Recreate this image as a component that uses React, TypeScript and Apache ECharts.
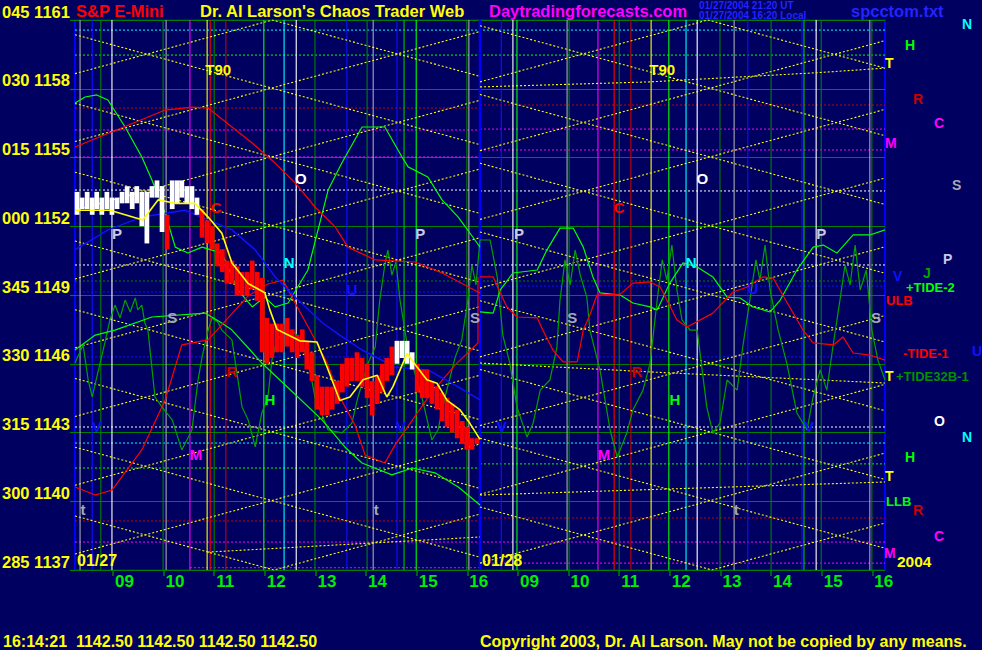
import React, { useEffect, useRef } from 'react';
import * as echarts from 'echarts';

const BG = '#000060';
const FONT = "'Liberation Sans', Arial, sans-serif";

// ---- axes ----
const hourLabels = ['09', '10', '11', '12', '13', '14', '15', '16'];
const hourTicks = [0.75, 1.75, 2.75, 3.75, 4.75, 5.75, 6.75, 7.75, 8.75, 9.75, 10.75, 11.75, 12.75, 13.75, 14.75, 15.75];
const priceTicks = [1137, 1140, 1143, 1146, 1149, 1152, 1155, 1158, 1161];
const angleLabels = ['285', '300', '315', '330', '345', '000', '015', '030', '045'];

// ---- price bars (day 1) ----
const barTimes = [
  0.04, 0.14, 0.24, 0.34, 0.43, 0.53, 0.63, 0.73, 0.83, 0.93,
  1.03, 1.13, 1.22, 1.32, 1.42, 1.52, 1.62, 1.72, 1.82, 1.92,
  2.02, 2.11, 2.21, 2.31, 2.41, 2.51, 2.61, 2.71, 2.81, 2.91,
  3.0, 3.1, 3.2, 3.3, 3.4, 3.5, 3.6, 3.7, 3.79, 3.89,
  3.99, 4.09, 4.19, 4.29, 4.39, 4.49, 4.58, 4.68, 4.78, 4.88,
  4.98, 5.08, 5.18, 5.28, 5.37, 5.47, 5.57, 5.67, 5.77, 5.87,
  5.97, 6.07, 6.16, 6.26, 6.36, 6.46, 6.56, 6.66, 6.76, 6.86,
  6.95, 7.05, 7.15, 7.25, 7.35, 7.45, 7.55, 7.65, 7.74, 7.84,
  7.94,
];
const barHigh = [
  1153.5, 1153.25, 1153.5, 1153.25, 1153.5, 1153.25, 1153.5, 1153.25, 1153.25, 1153.5,
  1153.75, 1153.5, 1153.75, 1153.5, 1153.5, 1153.75, 1154.0, 1153.75, 1152.5, 1154.0,
  1154.0, 1154.0, 1153.75, 1153.75, 1153.25, 1152.75, 1152.25, 1152.0, 1151.25, 1151.0,
  1150.5, 1150.5, 1150.25, 1150.0, 1150.0, 1150.5, 1150.0, 1149.75, 1148.0, 1147.75,
  1147.75, 1147.75, 1148.0, 1147.5, 1147.25, 1147.5, 1147.0, 1146.5, 1145.5, 1145.0,
  1145.0, 1145.0, 1145.25, 1146.0, 1146.25, 1146.25, 1146.5, 1146.25, 1146.0, 1145.25,
  1145.5, 1146.0, 1146.25, 1146.75, 1147.0, 1147.0, 1147.0, 1146.5, 1146.0, 1145.75,
  1145.75, 1145.25, 1145.0, 1144.75, 1144.5, 1144.25, 1144.0, 1143.5, 1143.25, 1142.75,
  1142.75,
];
const barLow = [
  1152.5, 1152.75, 1152.75, 1152.5, 1152.75, 1152.5, 1152.75, 1152.5, 1152.75, 1153.0,
  1153.0, 1152.75, 1153.0, 1152.0, 1151.25, 1153.25, 1153.25, 1151.75, 1151.0, 1152.75,
  1153.0, 1153.25, 1153.0, 1152.75, 1152.5, 1151.5, 1151.25, 1151.0, 1150.25, 1150.0,
  1149.5, 1149.5, 1149.0, 1149.0, 1149.0, 1149.25, 1148.75, 1146.5, 1146.0, 1146.25,
  1146.5, 1146.5, 1146.75, 1146.5, 1146.25, 1146.5, 1145.75, 1145.25, 1144.0, 1143.75,
  1143.75, 1144.0, 1144.25, 1144.75, 1145.0, 1145.25, 1145.25, 1145.0, 1144.5, 1143.75,
  1144.25, 1144.75, 1145.25, 1145.5, 1146.0, 1146.25, 1146.0, 1145.75, 1144.75, 1144.5,
  1144.5, 1144.25, 1144.0, 1143.5, 1143.25, 1143.0, 1142.75, 1142.5, 1142.25, 1142.25,
  1142.5,
];
// W = white bar, R = red bar
const barState =
  'WWWWWWWWWWWWWWWWWW' + 'R' + 'WWWWWW' +
  'RRRRRRRRRR' + 'RRRRRRRRRR' + 'RRRRRRRRRR' + 'RRRRRRRRR' +
  'WWWW' + 'RRRRRRRRRR' + 'RRR';

// ---- yellow price average ----
const priceAvg = [
  [0, 1152.7], [0.69, 1152.7], [1.34, 1152.27], [1.64, 1153.15], [1.98, 1153.0], [2.37, 1153.0],
  [2.63, 1152.4], [2.9, 1151.7], [3.1, 1150.4], [3.42, 1149.5], [3.75, 1149.1], [3.85, 1148.35],
  [3.99, 1147.5], [4.44, 1147.0], [4.78, 1146.95], [4.98, 1145.85], [5.23, 1144.4], [5.43, 1144.55],
  [5.69, 1145.3], [5.97, 1145.5], [6.16, 1144.55], [6.28, 1145.0], [6.56, 1146.45], [6.76, 1145.85],
  [6.95, 1145.3], [7.15, 1145.15], [7.35, 1144.4], [7.6, 1144.0], [7.8, 1143.4], [8.0, 1142.7],
];

// ---- blue curve (day 1) ----
const blueCurve = [
  [0, 1150.97], [0.65, 1151.84], [1.32, 1152.4], [2.17, 1152.7], [2.63, 1152.27], [3.1, 1151.84],
  [3.56, 1150.97], [3.95, 1149.8], [4.35, 1148.9], [4.88, 1147.8], [5.23, 1147.25], [5.67, 1146.6],
  [6.32, 1145.86], [6.97, 1145.73], [7.51, 1145.07], [8.0, 1144.42],
];

// ---- red curves ----
const redUpper1 = [
  [0, 1155.46], [1.78, 1157.07], [2.31, 1157.2], [2.63, 1157.16], [3.1, 1156.33], [3.5, 1155.63],
  [3.95, 1154.76], [4.35, 1153.89], [4.74, 1152.84], [5.14, 1151.97], [5.39, 1151.09], [5.93, 1150.53],
  [6.72, 1150.44], [7.25, 1149.96], [8.0, 1149.09],
];
const redLower1 = [
  [0, 1140.62], [0.4, 1140.27], [0.73, 1140.49], [1.32, 1142.24], [1.78, 1144.42], [2.11, 1146.82],
  [2.63, 1147.04], [3.02, 1147.99], [3.42, 1148.96], [3.81, 1149.48], [4.11, 1149.65], [4.39, 1148.48],
  [4.64, 1147.47], [4.98, 1146.03], [5.23, 1144.55], [5.53, 1143.33], [5.73, 1142.02], [6.12, 1141.67],
  [6.32, 1142.45], [7.01, 1144.64], [7.51, 1145.95], [7.96, 1146.91], [7.96, 1149.79],
];
const red2 = [
  [8.0, 1149.79], [8.26, 1149.79], [8.53, 1148.48], [8.73, 1148.04], [9.13, 1148.0], [9.24, 1147.47],
  [9.44, 1146.6], [9.64, 1146.08], [9.92, 1146.08], [10.04, 1147.47], [10.17, 1148.13], [10.31, 1149.0],
  [10.77, 1149.04], [11.02, 1149.52], [11.36, 1149.57], [11.56, 1149.35], [11.89, 1147.91], [12.09, 1147.6],
  [12.6, 1148.21], [13.0, 1149.13], [13.28, 1149.35], [13.59, 1149.79], [13.79, 1149.74], [14.07, 1148.65],
  [14.38, 1147.47], [14.58, 1146.91], [14.98, 1146.82], [15.17, 1147.17], [15.37, 1146.47], [15.7, 1146.38],
  [16.0, 1146.16],
];

// ---- bright green curves ----
const greenUpper1 = [
  [0, 1157.38], [0.2, 1157.64], [0.43, 1157.73], [0.65, 1157.51], [0.99, 1156.33], [1.32, 1155.02],
  [1.52, 1154.02], [1.78, 1152.58], [1.98, 1151.09], [2.23, 1150.83], [2.51, 1151.09], [2.9, 1150.83],
  [3.22, 1149.22], [3.5, 1148.48], [3.75, 1148.91], [3.95, 1148.48], [4.21, 1148.65], [4.6, 1150.09],
  [5.0, 1153.58], [5.27, 1154.76], [5.67, 1156.33], [6.12, 1156.33], [6.46, 1155.02], [6.58, 1154.59],
  [6.97, 1154.15], [7.25, 1153.15], [7.57, 1152.4], [7.9, 1151.4], [8.0, 1151.09],
];
const greenLower1 = [
  [0, 1146.6], [0.4, 1147.25], [0.79, 1147.47], [1.52, 1148.04], [2.57, 1148.21], [2.9, 1147.78],
  [3.1, 1147.47], [3.46, 1146.6], [3.69, 1146.03], [4.11, 1145.16], [4.88, 1143.55], [5.33, 1142.37],
  [5.67, 1141.67], [6.26, 1141.15], [6.66, 1141.45], [7.11, 1141.24], [7.57, 1140.62], [8.0, 1139.84],
];
const green2 = [
  [8.0, 1148.26], [8.26, 1148.21], [8.4, 1149.22], [8.65, 1149.96], [9.13, 1150.09], [9.32, 1150.96],
  [9.58, 1151.92], [9.84, 1151.92], [10.04, 1151.09], [10.23, 1149.79], [10.37, 1149.09], [10.77, 1149.0],
  [11.02, 1148.65], [11.36, 1148.48], [11.5, 1148.35], [11.75, 1149.52], [12.01, 1150.4], [12.29, 1150.22],
  [12.6, 1149.79], [12.88, 1148.91], [13.14, 1148.87], [13.39, 1148.48], [13.73, 1148.26], [13.93, 1148.78],
  [14.26, 1150.09], [14.58, 1151.09], [14.78, 1151.18], [15.05, 1150.83], [15.37, 1151.62], [15.7, 1151.62],
  [16.0, 1151.84],
];

// ---- dark green oscillator ----
const oscillator = [
  [0, 1146.03], [0.16, 1146.82], [0.26, 1145.29], [0.34, 1144.55], [0.45, 1145.6], [0.59, 1146.91],
  [0.69, 1147.91], [0.79, 1148.56], [0.89, 1148.0], [0.99, 1148.78], [1.09, 1148.26], [1.19, 1148.87],
  [1.24, 1148.35], [1.32, 1148.56], [1.38, 1147.78], [1.44, 1147.47], [1.58, 1144.55], [1.72, 1144.11],
  [1.92, 1143.55], [2.11, 1142.24], [2.31, 1143.11], [2.43, 1145.29], [2.51, 1146.29], [2.63, 1147.47],
  [2.71, 1148.0], [2.82, 1147.82], [2.9, 1147.47], [3.1, 1147.04], [3.3, 1144.11], [3.42, 1143.55],
  [3.56, 1142.37], [3.69, 1143.85], [3.81, 1144.55], [3.89, 1146.16], [4.01, 1147.25], [4.15, 1146.82],
  [4.29, 1147.47], [4.44, 1147.12], [4.6, 1146.16], [4.74, 1144.55], [5.0, 1143.11], [5.27, 1142.98],
  [5.47, 1143.41], [5.59, 1144.55], [5.79, 1146.03], [5.93, 1146.73], [6.02, 1148.78], [6.12, 1150.31],
  [6.18, 1150.96], [6.26, 1149.87], [6.34, 1150.44], [6.42, 1148.78], [6.58, 1146.6], [6.85, 1144.55],
  [7.05, 1142.67], [7.17, 1143.11], [7.31, 1144.55], [7.51, 1146.29], [7.64, 1147.04], [7.76, 1148.78],
  [7.84, 1150.31], [7.92, 1149.44], [8.0, 1151.4], [8.2, 1151.4], [8.34, 1149.79], [8.45, 1147.25],
  [8.59, 1146.03], [8.73, 1144.11], [8.93, 1142.8], [9.05, 1143.41], [9.19, 1144.85], [9.38, 1145.29],
  [9.52, 1146.73], [9.58, 1148.78], [9.68, 1150.53], [9.78, 1149.44], [9.88, 1150.96], [9.98, 1149.87],
  [10.11, 1148.91], [10.17, 1147.47], [10.37, 1145.73], [10.57, 1143.11], [10.71, 1141.93], [10.9, 1142.98],
  [11.02, 1143.98], [11.22, 1144.85], [11.36, 1146.03], [11.5, 1148.78], [11.6, 1150.53], [11.69, 1149.65],
  [11.79, 1151.18], [11.89, 1149.22], [11.99, 1147.91], [12.15, 1147.47], [12.29, 1147.47], [12.48, 1144.11],
  [12.6, 1142.98], [12.74, 1143.41], [12.88, 1145.29], [13.08, 1144.85], [13.19, 1146.73], [13.33, 1148.78],
  [13.45, 1150.53], [13.53, 1149.65], [13.63, 1151.18], [13.73, 1149.22], [13.89, 1147.47], [14.06, 1146.03],
  [14.26, 1143.85], [14.46, 1143.11], [14.58, 1144.55], [14.72, 1145.73], [14.85, 1144.85], [14.97, 1146.73],
  [15.11, 1148.78], [15.21, 1150.31], [15.31, 1149.44], [15.41, 1151.18], [15.51, 1149.22], [15.63, 1150.09],
  [15.74, 1147.47], [15.86, 1146.16], [16.0, 1145.29],
];

// ---- yellow field lines ----
const fieldLines = [
  [[0, 1160.36], [8, 1155.56]], [[0, 1157.36], [8, 1152.56]], [[0, 1154.36], [8, 1149.56]],
  [[0, 1151.36], [8, 1146.56]], [[0, 1148.36], [8, 1143.56]], [[0, 1145.36], [8, 1140.56]],
  [[0, 1142.36], [8, 1137.56]], [[0, 1139.36], [3.93, 1137], [8, 1139.44]],
  [[0, 1158.66], [3.9, 1161], [8, 1158.54]], [[0, 1155.7], [8, 1160.5]], [[0, 1152.7], [8, 1157.5]],
  [[0, 1149.7], [8, 1154.5]], [[0, 1146.7], [8, 1151.5]], [[0, 1143.7], [8, 1148.5]],
  [[0, 1140.7], [8, 1145.5]], [[0, 1137.7], [8, 1142.5]], [[2.62, 1137.78], [8, 1138.44]],
  [[8, 1160.75], [16, 1155.95]], [[8, 1157.75], [16, 1152.95]], [[8, 1154.75], [16, 1149.95]],
  [[8, 1151.75], [16, 1146.95]], [[8, 1148.75], [16, 1143.95]], [[8, 1145.75], [16, 1140.95]],
  [[8, 1142.75], [16, 1137.95]], [[8, 1139.75], [12.58, 1137], [16, 1139.05]],
  [[8, 1158.3], [12.5, 1161], [16, 1158.9]], [[8, 1155.3], [16, 1160.1]], [[8, 1152.3], [16, 1157.1]],
  [[8, 1149.3], [16, 1154.1]], [[8, 1146.3], [16, 1151.1]], [[8, 1143.3], [16, 1148.1]],
  [[8, 1140.3], [16, 1145.1]], [[8, 1137.3], [16, 1142.1]],
  [[8, 1158.08], [11.36, 1158.3], [14.66, 1158.7], [16, 1158.9]],
  [[8, 1140.27], [16, 1140.84]], [[8, 1146.03], [11.75, 1145.6], [16, 1145.16]],
];

// ---- horizontal dotted levels: [from, to, price, kind] ----
const levelLines: [number, number, number, string][] = [
  [0, 16, 1160.56, 'cyan'], [0, 16, 1159.47, 'green'],
  [0, 8, 1157.16, 'darkred'], [8, 16, 1157.29, 'darkred'],
  [0, 8, 1156.2, 'magenta'], [8, 16, 1156.24, 'magenta'],
  [0, 8, 1155.02, 'magenta'], [8, 16, 1155.33, 'magenta'],
  [0, 8, 1153.58, 'white'], [8, 16, 1153.54, 'white'],
  [0, 16, 1150.31, 'white'], [0, 16, 1149.61, 'dkgreen'],
  [0, 8, 1149.13, 'blue'], [8, 16, 1149.39, 'blue'],
  [0, 16, 1146.3, 'blue'], [0, 16, 1143.24, 'white'], [0, 16, 1142.54, 'cyan'],
  [0, 8, 1141.45, 'green'], [8, 16, 1141.63, 'green'],
  [0, 8, 1139.14, 'darkred'], [8, 16, 1139.27, 'darkred'],
  [0, 16, 1138.22, 'magenta'], [2.27, 8, 1137.1, 'magenta'], [8, 16, 1137.3, 'magenta'],
];

// ---- vertical time lines ----
const vLineT = [
  0.1, 0.34, 0.51, 0.73, 1.74, 1.8, 2.27, 2.61, 2.67, 2.75, 2.98, 3.73, 4.13, 4.37, 4.74, 5.37,
  5.77, 5.89, 6.36, 6.5, 6.74, 7.74, 7.78, 8.0, 8.42, 8.65, 8.73, 9.72, 9.76, 10.33, 10.65, 10.75,
  10.98, 11.38, 11.73, 12.07, 12.29, 12.74, 13.02, 13.29, 13.75, 14.36, 14.4, 14.64, 14.74, 15.7, 15.74,
];
const vLineKind = [
  'gray', 'blue', 'dkgreen', 'white', 'dkgreen', 'gray', 'magenta', 'yellow', 'red', 'dkgreen', 'darkred',
  'green', 'cyan', 'white', 'dkgreen', 'blue', 'dkgreen', 'gray', 'blue', 'midgreen', 'green', 'dkgreen',
  'gray', 'sep', 'blue', 'white', 'green', 'gray', 'dkgreen', 'magenta', 'red', 'dkgreen', 'darkred',
  'yellow', 'green', 'cyan', 'white', 'dkgreen', 'gray', 'blue', 'dkgreen', 'blue', 'midgreen', 'white',
  'dkgreen', 'gray', 'dkgreen',
];

// ---- in-plot markers ----
const markers: [string, number, number, string][] = [
  ['T90', 2.83, 1158.86, 'yellow'], ['T90', 11.6, 1158.86, 'yellow'],
  ['O', 4.46, 1154.1, 'white'], ['O', 12.39, 1154.1, 'white'],
  ['C', 2.79, 1152.84, 'red'], ['C', 10.75, 1152.84, 'red'],
  ['P', 0.83, 1151.7, 'pale'], ['P', 6.82, 1151.7, 'pale'], ['P', 8.77, 1151.7, 'pale'], ['P', 14.74, 1151.7, 'pale'],
  ['N', 4.23, 1150.44, 'cyan'], ['N', 12.17, 1150.44, 'cyan'],
  ['U', 5.47, 1149.26, 'blue'], ['U', 13.39, 1149.3, 'blue'],
  ['S', 1.92, 1148.04, 'gray'], ['S', 7.9, 1148.04, 'gray'], ['S', 9.82, 1148.04, 'gray'], ['S', 15.82, 1148.04, 'gray'],
  ['R', 3.1, 1145.68, 'darkred'], ['R', 11.1, 1145.68, 'darkred'],
  ['H', 3.85, 1144.46, 'green'], ['H', 11.85, 1144.46, 'green'],
  ['M', 2.39, 1142.06, 'magenta'], ['M', 10.45, 1142.06, 'magenta'],
  ['t', 0.16, 1139.66, 'gray'], ['t', 5.95, 1139.66, 'gray'], ['t', 13.06, 1139.66, 'gray'],
  ['V', 0.43, 1143.28, 'blue'], ['V', 6.44, 1143.28, 'blue'], ['V', 8.43, 1143.28, 'blue'], ['V', 14.5, 1143.28, 'blue'],
];

// ---- texts ----
const titleMain = 'S&P E-Mini';
const titleAuthor = "Dr. Al Larson's Chaos Trader Web";
const titleSite = 'Daytradingforecasts.com';
const stampUT = '01/27/2004 21:20 UT';
const stampLocal = '01/27/2004 16:20 Local';
const fileName = 'spcctom.txt';
const statusTime = '16:14:21';
const lastPrices = ['1142.50', '1142.50', '1142.50', '1142.50'];
const copyright = 'Copyright 2003, Dr. Al Larson. May not be copied by any means.';
const dayLabels = ['01/27', '01/28'];
const yearLabel = '2004';

const COLORS: Record<string, string> = {
  yellow: '#ffff00', white: '#ffffff', red: '#ff0000', darkred: '#c80000', cyan: '#00ffff',
  blue: '#1010ff', green: '#00ff00', dkgreen: '#008000', midgreen: '#00c000', magenta: '#ff00ff',
  gray: '#a8a8b0', pale: '#c8c8e8', sep: '#0000ff', jgreen: '#00a800', tide: '#009000',
};

const sideLabels: [string, number, number, string, number][] = [
  ['N', 962, 24, 'cyan', 14], ['H', 905, 45, 'green', 14], ['T', 885, 63, 'yellow', 14],
  ['R', 913, 99, 'darkred', 14], ['C', 934, 123, 'magenta', 14], ['M', 885, 143, 'magenta', 14],
  ['S', 952, 185, 'gray', 14], ['P', 943, 259, 'pale', 14], ['J', 923, 273, 'jgreen', 14],
  ['V', 893, 276, 'blue', 14], ['ULB', 886, 300, 'red', 13], ['+TIDE-2', 906, 287, 'green', 13],
  ['U', 972, 351, 'blue', 14], ['-TIDE-1', 903, 353, 'red', 13],
  ['T', 885, 376, 'yellow', 14], ['+TIDE32B-1', 896, 376, 'tide', 13],
  ['O', 934, 421, 'white', 14], ['N', 962, 437, 'cyan', 14], ['H', 905, 457, 'green', 14],
  ['T', 885, 476, 'yellow', 14], ['LLB', 886, 501, 'green', 13], ['R', 913, 510, 'darkred', 14],
  ['C', 934, 536, 'magenta', 14], ['M', 884, 553, 'magenta', 14],
];

function txt(text: string, x: number, y: number, fill: string, size: number) {
  return {
    type: 'text', x, y, z: 100, silent: true,
    style: { text, fill, font: `bold ${size}px ${FONT}`, align: 'left', verticalAlign: 'middle', textAlign: 'left', textVerticalAlign: 'middle' },
  };
}

function buildOption() {
  const yMin = priceTicks[0];
  const yMax = priceTicks[priceTicks.length - 1];

  const series: any[] = [];

  series.push({
    type: 'custom', coordinateSystem: 'cartesian2d', silent: true, z: 2,
    encode: { x: [0, 1], y: 2 },
    data: levelLines.map((l) => [l[0], l[1], l[2]]),
    renderItem: (params: any, api: any) => {
      const a = api.coord([api.value(0), api.value(2)]);
      const b = api.coord([api.value(1), api.value(2)]);
      return {
        type: 'line', shape: { x1: a[0], y1: a[1], x2: b[0], y2: b[1] },
        style: { stroke: COLORS[levelLines[params.dataIndex][3]], lineWidth: 1, lineDash: [2, 2] },
      };
    },
  });

  series.push({
    type: 'custom', coordinateSystem: 'cartesian2d', silent: true, z: 3,
    encode: { x: 0, y: [1, 2] },
    data: vLineT.map((t) => [t, yMin, yMax]),
    renderItem: (params: any, api: any) => {
      const a = api.coord([api.value(0), api.value(2)]);
      const b = api.coord([api.value(0), api.value(1)]);
      const kind = vLineKind[params.dataIndex];
      return {
        type: 'line', shape: { x1: a[0], y1: a[1], x2: b[0], y2: b[1] },
        style: { stroke: COLORS[kind], lineWidth: kind === 'sep' ? 2.5 : 1.1 },
      };
    },
  });

  fieldLines.forEach((pl) => {
    series.push({
      type: 'line', data: pl, symbol: 'none', silent: true, z: 4,
      lineStyle: { color: '#ffff00', width: 1.1, type: [2, 2] },
    });
  });

  const curve = (data: number[][], color: string, width: number, z = 5) => ({
    type: 'line', data, symbol: 'none', silent: true, z, lineStyle: { color, width },
  });
  series.push(curve(oscillator, '#00a000', 1.2));
  series.push(curve(greenUpper1, '#00ff00', 1.2));
  series.push(curve(greenLower1, '#00ff00', 1.2));
  series.push(curve(green2, '#00ff00', 1.2));
  series.push(curve(redUpper1, '#ff0000', 1.2));
  series.push(curve(redLower1, '#ff0000', 1.2));
  series.push(curve(red2, '#ff0000', 1.2));
  series.push(curve(blueCurve, '#1010ff', 1.5));

  series.push({
    type: 'custom', coordinateSystem: 'cartesian2d', silent: true, z: 7,
    encode: { x: 0, y: [1, 2] },
    data: barTimes.map((t, i) => [t, barLow[i], barHigh[i]]),
    renderItem: (params: any, api: any) => {
      const top = api.coord([api.value(0), api.value(2)]);
      const bot = api.coord([api.value(0), api.value(1)]);
      const w = api.size([0.0988, 0])[0] * 0.95;
      return {
        type: 'rect',
        shape: { x: top[0] - w / 2, y: top[1], width: w, height: Math.max(1, bot[1] - top[1]) },
        style: { fill: barState[params.dataIndex] === 'W' ? '#ffffff' : '#ff0000' },
      };
    },
  });

  series.push(curve(priceAvg, '#ffff00', 1.6, 8));

  series.push({
    type: 'custom', coordinateSystem: 'cartesian2d', silent: true, z: 9,
    encode: { x: 0, y: 1 },
    data: markers.map((m) => [m[1], m[2]]),
    renderItem: (params: any, api: any) => {
      const p = api.coord([api.value(0), api.value(1)]);
      const m = markers[params.dataIndex];
      return {
        type: 'text', x: p[0], y: p[1],
        style: {
          text: m[0], fill: COLORS[m[3]], font: `bold 15px ${FONT}`,
          align: 'center', verticalAlign: 'middle', textAlign: 'center', textVerticalAlign: 'middle',
        },
      };
    },
  });

  const elements: any[] = [
    txt(titleMain, 76, 11, '#ff0000', 16.5),
    txt(titleAuthor, 200, 11, '#ffff00', 16.5),
    txt(titleSite, 489, 11, '#ff00ff', 16.5),
    txt(stampUT, 699, 5, '#2424ff', 10),
    txt(stampLocal, 699, 15, '#2424ff', 10),
    txt(fileName, 851, 11, '#2424ff', 16.5),
    txt(`${statusTime}  ${lastPrices.join(' ')}`, 3, 641, '#ffff00', 16),
    txt(copyright, 480, 641, '#ffff00', 16),
    txt(dayLabels[0], 77, 560, '#ffff00', 16),
    txt(dayLabels[1], 482, 560, '#ffff00', 16),
  ];
  sideLabels.forEach((s) => elements.push(txt(s[0], s[1], s[2], COLORS[s[3]], s[4])));
  elements.push(txt(yearLabel, 897, 561, '#ffff00', 15.5));

  return {
    animation: false,
    backgroundColor: BG,
    grid: {
      left: 75, top: 20, width: 810, height: 550, show: true,
      borderColor: '#0000ff', borderWidth: 2, backgroundColor: 'transparent',
      containLabel: false, outerBoundsMode: 'none',
    },
    xAxis: {
      type: 'value', min: 0, max: 16,
      splitLine: { show: false },
      axisLine: { show: false },
      axisTick: { show: true, customValues: hourTicks, length: 6, lineStyle: { color: '#008000', width: 1.5 } },
      axisLabel: {
        customValues: hourTicks,
        formatter: (v: number) => hourLabels[Math.round(v - 0.75) % 8],
        color: '#00ee00', fontSize: 17, fontWeight: 'bold', fontFamily: FONT,
        align: 'left', margin: 3, padding: [0, 0, 0, 2],
      },
    },
    yAxis: {
      type: 'value', min: yMin, max: yMax, interval: 3,
      splitLine: { show: true, lineStyle: { color: '#008000', width: 1.2 } },
      axisLine: { show: false },
      axisTick: { show: true, length: 5, lineStyle: { color: '#008000', width: 1.2 } },
      axisLabel: {
        formatter: (v: number) => `${angleLabels[priceTicks.indexOf(v)] ?? ''} ${v}`,
        color: '#ffff00', fontSize: 16.5, fontWeight: 'bold', fontFamily: FONT,
        align: 'left', verticalAlign: 'bottom', margin: 73,
      },
    },
    series,
    graphic: { elements },
  };
}

export default function App() {
  const ref = useRef<HTMLDivElement>(null);
  useEffect(() => {
    document.body.style.margin = '0';
    document.body.style.background = BG;
    const chart = echarts.init(ref.current!, null, { renderer: 'svg' });
    chart.setOption(buildOption() as any);
    return () => chart.dispose();
  }, []);
  return <div ref={ref} style={{ width: 982, height: 650, background: BG }} />;
}
